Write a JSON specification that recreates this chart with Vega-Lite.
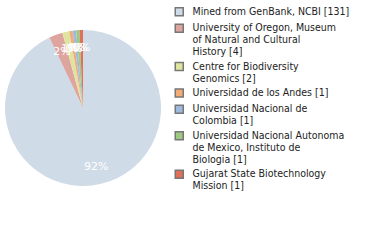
{
  "$schema": "https://vega.github.io/schema/vega-lite/v6.json",
  "width": 166,
  "height": 216,
  "autosize": "none",
  "padding": {"left": 0, "top": 0, "right": 214, "bottom": 24},
  "background": "white",
  "config": {"view": {"stroke": null}, "font": "DejaVu Sans", "style": {"guide-label": {"lineHeight": 12}}},
  "data": {
    "values": [
      {"name": "Mined from GenBank, NCBI [131]", "count": 131, "order": 1, "pct": "92%"},
      {"name": "University of Oregon, Museum\nof Natural and Cultural\nHistory [4]", "count": 4, "order": 2, "pct": "2%"},
      {"name": "Centre for Biodiversity\nGenomics [2]", "count": 2, "order": 3, "pct": "1%"},
      {"name": "Universidad de los Andes [1]", "count": 1, "order": 4, "pct": "0%"},
      {"name": "Universidad Nacional de\nColombia [1]", "count": 1, "order": 5, "pct": "0%"},
      {"name": "Universidad Nacional Autonoma\nde Mexico, Instituto de\nBiologia [1]", "count": 1, "order": 6, "pct": "0%"},
      {"name": "Gujarat State Biotechnology\nMission [1]", "count": 1, "order": 7, "pct": "0%"}
    ]
  },
  "encoding": {
    "theta": {"field": "count", "type": "quantitative", "stack": true},
    "order": {"field": "order", "type": "quantitative"},
    "color": {
      "field": "name",
      "type": "nominal",
      "sort": {"field": "order"},
      "scale": {
        "domain": [
          "Mined from GenBank, NCBI [131]",
          "University of Oregon, Museum\nof Natural and Cultural\nHistory [4]",
          "Centre for Biodiversity\nGenomics [2]",
          "Universidad de los Andes [1]",
          "Universidad Nacional de\nColombia [1]",
          "Universidad Nacional Autonoma\nde Mexico, Instituto de\nBiologia [1]",
          "Gujarat State Biotechnology\nMission [1]"
        ],
        "range": ["#cfdbe7", "#dda59e", "#dfe4a0", "#f2ad76", "#9ebbdf", "#a1c880", "#e07158"]
      },
      "legend": {
        "orient": "none",
        "legendX": 174,
        "legendY": 6.5,
        "title": null,
        "symbolType": "square",
        "symbolSize": 64,
        "symbolStrokeColor": "#777777",
        "symbolStrokeWidth": 1.5,
        "labelFont": "DejaVu Sans Condensed",
        "labelFontSize": 10.5,
        "labelColor": "#222222",
        "labelLimit": 300,
        "labelOffset": 8,
        "rowPadding": 1.4,
        "labelExpr": "split(datum.label, '\\n')"
      }
    }
  },
  "layer": [
    {"mark": {"type": "arc", "outerRadius": 78}},
    {
      "mark": {"type": "text", "radius": 60, "color": "white", "fontSize": 11, "font": "DejaVu Sans"},
      "encoding": {"text": {"field": "pct"}, "color": {"value": "white"}}
    }
  ]
}
